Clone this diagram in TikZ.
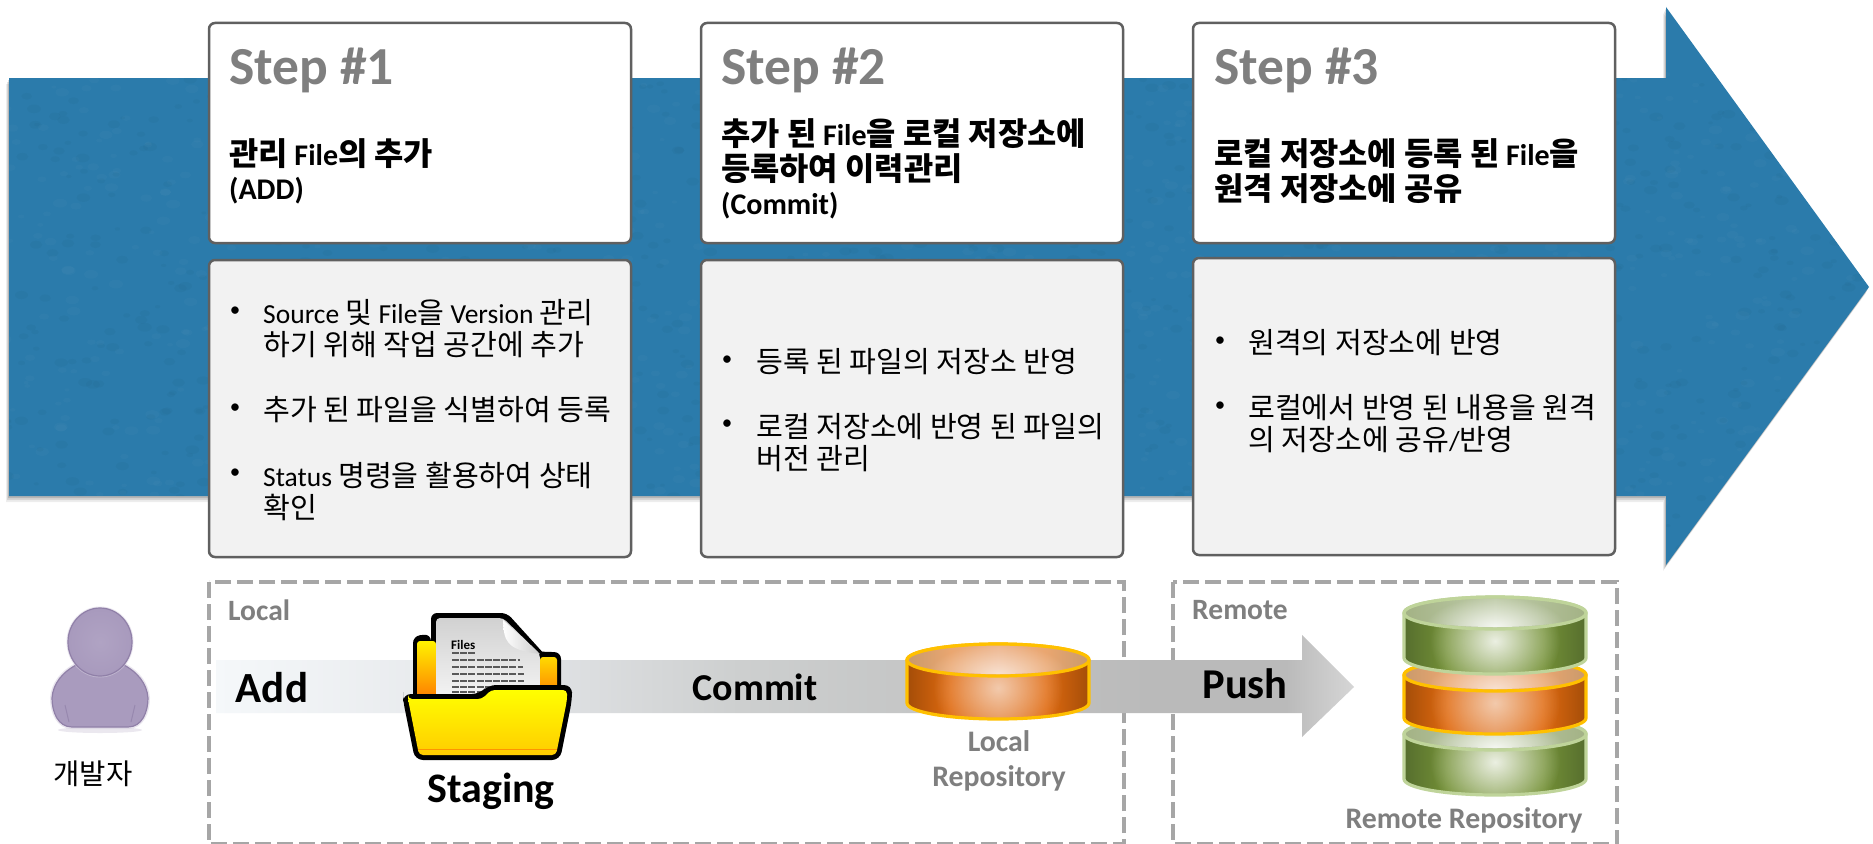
\documentclass[tikz,border=0pt]{standalone}
\usepackage{fontspec}
\usetikzlibrary{fadings}
\setmainfont{Carlito}
\newfontfamily\kofont[Scale=1.06]{Noto Sans CJK KR}
\newcommand{\K}[1]{{\kofont #1}}
\definecolor{bluebody}{HTML}{2B7BAB}
\definecolor{boxline}{HTML}{606060}
\definecolor{detailfill}{HTML}{F2F2F2}
\definecolor{stepgray}{HTML}{7F7F7F}
\definecolor{dashgray}{HTML}{A6A6A6}
\definecolor{personfill}{HTML}{A99BBE}
\definecolor{personedge}{HTML}{9080A8}
\definecolor{bara}{HTML}{F5F8FA}\definecolor{barb}{HTML}{E3E5E8}\definecolor{barc}{HTML}{CDCFCF}\definecolor{bard}{HTML}{BABABA}\definecolor{bare}{HTML}{D6D6D6}
\pgfdeclarehorizontalshading{barshade}{100bp}{color(0bp)=(bara);color(25bp)=(bara);color(38bp)=(barb);color(48bp)=(barc);color(66bp)=(bard);color(72bp)=(bard);color(75bp)=(bare);color(100bp)=(bare)}
\definecolor{oa}{HTML}{A44D08}\definecolor{ob}{HTML}{E06A10}\definecolor{oc}{HTML}{E07A30}
\definecolor{ta}{HTML}{C99A6C}\definecolor{tb}{HTML}{EAA670}\definecolor{tc}{HTML}{EDB48C}
\definecolor{ga}{HTML}{566E2E}\definecolor{gb}{HTML}{749136}\definecolor{gc}{HTML}{7C9840}
\definecolor{ha}{HTML}{A3B285}\definecolor{hb}{HTML}{B0BE96}\definecolor{hc}{HTML}{C0CCAA}
\pgfdeclarehorizontalshading{oside}{100bp}{color(0bp)=(oa);color(25bp)=(oa);color(37bp)=(ob);color(50bp)=(oc);color(63bp)=(ob);color(75bp)=(oa);color(100bp)=(oa)}
\pgfdeclarehorizontalshading{otop}{100bp}{color(0bp)=(ta);color(25bp)=(ta);color(37bp)=(tb);color(50bp)=(tc);color(63bp)=(tb);color(75bp)=(ta);color(100bp)=(ta)}
\pgfdeclarehorizontalshading{gside}{100bp}{color(0bp)=(ga);color(25bp)=(ga);color(37bp)=(gb);color(50bp)=(gc);color(63bp)=(gb);color(75bp)=(ga);color(100bp)=(ga)}
\pgfdeclarehorizontalshading{gtop}{100bp}{color(0bp)=(ha);color(25bp)=(ha);color(37bp)=(hb);color(50bp)=(hc);color(63bp)=(hb);color(75bp)=(ha);color(100bp)=(ha)}
\tikzfading[name=softglow,inner color=transparent!0,outer color=transparent!100]
\definecolor{oline}{HTML}{FFC000}
\definecolor{gline}{HTML}{BFD49A}
% \cyl{cx}{top centre y}{side end y}{side shade}{top shade}{line}{highlight opacity}
\newcommand{\cyl}[7]{%
  \def\sidepath{({#1-91},#2) -- ({#1-91},#3) arc[start angle=180,end angle=360,x radius=91pt,y radius=16pt] -- ({#1+91},#2) arc[start angle=0,end angle=180,x radius=91pt,y radius=16pt] -- cycle}%
  \shade[shading=#4] \sidepath;
  \begin{scope}\clip \sidepath;
    \fill[white,opacity=#7,path fading=softglow] (#1,{#2+28}) ellipse [x radius=65pt,y radius=55pt];
  \end{scope}
  \draw[#6,line width=3.2pt] \sidepath;
  \shade[shading=#5,draw=#6,line width=3.2pt] (#1,#2) ellipse [x radius=91pt,y radius=16pt];
  \begin{scope}\clip (#1,#2) ellipse [x radius=89pt,y radius=14pt];
    \fill[white,opacity=#7,path fading=softglow] (#1,{#2+14}) ellipse [x radius=70pt,y radius=30pt];
  \end{scope}
}
\tikzset{
  stepbox/.style={draw=boxline,fill=white,line width=2.5pt,rounded corners=6pt,anchor=north west,minimum width=422pt,inner sep=0pt,outer sep=0pt},
  detailbox/.style={stepbox,fill=detailfill},
  steptitle/.style={anchor=west,text=stepgray,font=\fontsize{53.5}{60}\selectfont\bfseries,inner sep=0pt},
  headline/.style={anchor=west,align=left,text=black,font=\fontsize{30}{35}\selectfont\bfseries,inner sep=0pt},
  bulletdot/.style={anchor=center,font=\fontsize{21}{33}\selectfont,inner sep=0pt},
  bulletitem/.style={anchor=west,align=left,font=\fontsize{27.5}{32}\selectfont,inner sep=0pt},
  zonebox/.style={draw=dashgray,line width=4.5pt,dash pattern=on 16pt off 6pt},
  zonelabel/.style={anchor=west,text=stepgray,font=\fontsize{29.5}{32}\selectfont\bfseries,inner sep=0pt},
  repolabel/.style={anchor=center,align=center,text=stepgray,font=\fontsize{29.8}{35}\selectfont\bfseries,inner sep=0pt},
  flowlabel/.style={anchor=center,text=black,font=\fontsize{42.5}{46}\selectfont\bfseries,inner sep=0pt},
}
\begin{document}
\begin{tikzpicture}[x=1pt,y=-1pt]
\useasboundingbox (0,0) rectangle (1873,843);
\fill[white] (0,0) rectangle (1873,843);
% big blue arrow
\def\bigarrow{(9,78) -- (1666,78) -- (1666,7) -- (1869,287) -- (1666,565) -- (1666,496) -- (9,496) -- cycle}
\foreach \s/\o in {6/.07,4/.1,2/.14}{\fill[black,opacity=\o,xshift=-\s pt/2,yshift=-\s pt] \bigarrow;}
\fill[bluebody] \bigarrow;
\begin{scope}
  \clip \bigarrow;
  \pgfmathsetseed{7}
  \foreach \i in {1,...,3000}{
    \pgfmathsetmacro{\px}{rnd*1870}\pgfmathsetmacro{\py}{rnd*570}\pgfmathsetmacro{\pr}{1.5+rnd*3}
    \pgfmathsetmacro{\pc}{rnd>0.5?1:0}
    \ifdim\pc pt>0.5pt
      \fill[white,opacity=.02] (\px,\py) ellipse [x radius=1.6*\pr pt,y radius=\pr pt];
    \else
      \fill[black,opacity=.025] (\px,\py) ellipse [x radius=1.6*\pr pt,y radius=\pr pt];
    \fi
  }
\end{scope}
% top boxes
\node[stepbox,minimum height=220pt] (s1) at (209,23) {};
\node[stepbox,minimum height=220pt] (s2) at (701,23) {};
\node[stepbox,minimum height=220pt] (s3) at (1193,23) {};
\node[detailbox,minimum height=297pt] (d1) at (209,260) {};
\node[detailbox,minimum height=297pt] (d2) at (701,260) {};
\node[detailbox,minimum height=297pt] (d3) at (1193,258) {};
\node[steptitle] (t1) at (229,70) {Step \#1};
\node[steptitle] (t2) at (721,70) {Step \#2};
\node[steptitle] (t3) at (1214,70) {Step \#3};
\node[headline] (h1) at (229,171) {\K{관리} File\K{의 추가}\\[-1pt]\fontsize{30}{30}\selectfont(ADD)};
\node[headline] (h2) at (721,169) {\K{추가 된} File\K{을 로컬 저장소에}\\\K{등록하여 이력관리}\\[-1pt]\fontsize{30}{30}\selectfont(Commit)};
\node[headline] (h3) at (1214,171) {\K{로컬 저장소에 등록 된} File\K{을}\\\K{원격 저장소에 공유}};
% bullets step 1
\node[bulletdot] (b11) at (235,312) {•};
\node[bulletitem] (i11) at (263,329) {Source \K{및} File\K{을} Version \K{관리}\\\K{하기 위해 작업 공간에 추가}};
\node[bulletdot] (b12) at (235,409) {•};
\node[bulletitem] (i12) at (263,410) {\K{추가 된 파일을 식별하여 등록}};
\node[bulletdot] (b13) at (235,474) {•};
\node[bulletitem] (i13) at (263,491) {Status \K{명령을 활용하여 상태}\\\K{확인}};
% bullets step 2
\node[bulletdot] (b21) at (727,361) {•};
\node[bulletitem] (i21) at (756,362) {\K{등록 된 파일의 저장소 반영}};
\node[bulletdot] (b22) at (727,425) {•};
\node[bulletitem] (i22) at (756,443) {\K{로컬 저장소에 반영 된 파일의}\\\K{버전 관리}};
% bullets step 3
\node[bulletdot] (b31) at (1220,342) {•};
\node[bulletitem] (i31) at (1248,343) {\K{원격의 저장소에 반영}};
\node[bulletdot] (b32) at (1220,407) {•};
\node[bulletitem] (i32) at (1248,424) {\K{로컬에서 반영 된 내용을 원격}\\\K{의 저장소에 공유}/\K{반영}};
% dashed zones
\draw[zonebox] (209,582) rectangle (1124,844);
\draw[zonebox] (1173,582) rectangle (1617,844);
\node[zonelabel] (zl) at (228,610) {Local};
\node[zonelabel] (zr) at (1192,610) {Remote};
% person
\def\personbody{(100,727) -- (72,727) .. controls (58,727) and (52,712) .. (52,698) .. controls (53,684) and (62,672) .. (78,664) -- (122,664) .. controls (138,672) and (147,684) .. (148,698) .. controls (148,712) and (142,727) .. (128,727) -- cycle}
\fill[personedge!35,opacity=.5,xscale=1] (100,730) ellipse [x radius=42pt,y radius=3pt];
\draw[personfill!50,line width=4pt,opacity=.5] \personbody;
\fill[personfill,draw=personedge,line width=1.2pt] \personbody;
\draw[personedge,line width=1pt,opacity=.7] (65,705) -- (69,722);
\draw[personedge,line width=1pt,opacity=.7] (135,705) -- (131,722);
\draw[personfill!50,line width=3pt,opacity=.5] (100,642) ellipse [x radius=32pt,y radius=34pt];
\shade[inner color=personfill!92!white,outer color=personfill!95!personedge,draw=personedge,line width=1.2pt] (100,642) ellipse [x radius=32pt,y radius=34pt];
\node[anchor=center,font=\fontsize{27}{32}\selectfont,inner sep=0pt] (dev) at (93,774) {\K{개발자}};
% grey flow arrow
\shade[shading=barshade] (216,660) -- (1302,660) -- (1302,635) -- (1354,687) -- (1302,737) -- (1302,713) -- (216,713) -- cycle;
% folder
\begin{scope}[line join=round]
  \fill[black,rounded corners=7pt] (413,700) -- (413,636) -- (431,634) -- (431,640) -- (545,652) -- (561,652) -- (561,700) -- cycle;
  \fill[black,rounded corners=6pt] (431,700) -- (431,613) -- (507,613) -- (546,656) -- (546,700) -- cycle;
  \shade[top color=yellow!90!orange,bottom color=orange!90!red!95!yellow,rounded corners=3pt] (417,700) -- (417,641) -- (436,641) -- (436,700) -- cycle;
  \shade[top color=yellow!70!orange,bottom color=orange!90!red!95!yellow,rounded corners=3pt] (540,700) -- (540,657) -- (557,657) -- (557,700) -- cycle;
  \shade[top color=black!18,bottom color=black!4,rounded corners=4pt] (436,700) -- (436,618) -- (503,618) -- (540,654) -- (540,700) -- cycle;
  \shade[left color=white,right color=black!20] (503,620) .. controls (504,640) and (505,650) .. (540,654) -- cycle;
  \node[font=\fontsize{13}{13}\selectfont\bfseries,anchor=west,inner sep=0pt] (ff) at (451,645) {Files};
  \foreach \yy/\xa in {653/475,660/520,667/523,674/524,681/524,687/524,692/505}{\draw[black!65,line width=1.2pt,dash pattern=on 7pt off 1.2pt] (452,\yy) -- (\xa,\yy);}
  \fill[black,rounded corners=8pt] (403,694) -- (480,694) -- (488,685) -- (572,685) -- (572,700) -- (560,760) -- (415,760) -- (403,700) -- cycle;
  \shade[top color=yellow,bottom color=orange!40!yellow,rounded corners=4pt] (408,699) -- (482,699) -- (491,690) -- (567,690) -- (567,700) -- (556,755) -- (419,755) -- (408,699) -- cycle;
  \draw[orange!85!yellow,line width=1pt] (418,749) -- (557,749);
\end{scope}
\node[flowlabel,font=\fontsize{43}{46}\selectfont\bfseries] (fadd) at (272,688) {Add};
\node[flowlabel,font=\fontsize{38}{46}\selectfont\bfseries] (fcommit) at (755,687) {Commit};
\node[flowlabel] (fpush) at (1245,684) {Push};
\node[flowlabel,font=\fontsize{42}{48}\selectfont\bfseries] (fstaging) at (491,791) {Staging};
% local repository
\cyl{998}{660}{703}{oside}{otop}{oline}{.6}
\node[repolabel] (lrepo) at (999,761) {Local\\Repository};
% remote repository
\cyl{1495}{734}{779}{gside}{gtop}{gline}{.85}
\cyl{1495}{675}{718}{oside}{otop}{oline}{.6}
\cyl{1495}{613}{658}{gside}{gtop}{gline}{.85}
\node[repolabel] (rrepo) at (1464,820) {Remote Repository};
\end{tikzpicture}
\end{document}
